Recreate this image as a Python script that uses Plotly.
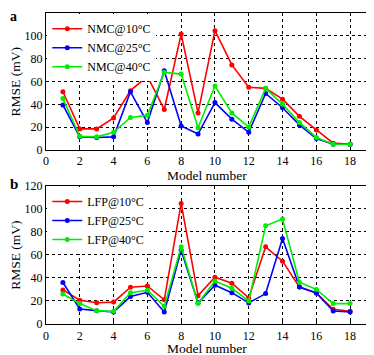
import plotly.graph_objects as go

models = list(range(1, 19))

nmc10 = [51, 18.5, 18.5, 28, 52, 64.5, 35.5, 101.5, 32.5, 104.5, 74.5, 55, 54, 44.5, 29.5, 17.5, 6, 5]
nmc25 = [39.5, 11.5, 11, 11.5, 51, 24, 69.5, 21, 14, 41.5, 27, 15.5, 49.5, 37, 22, 10, 5, 5]
nmc40 = [45, 12, 11.5, 15.5, 28.5, 30.5, 68, 66.5, 19.5, 56, 32.5, 20, 54, 40, 24, 11, 5, 5]

lfp10 = [29.6, 20.6, 18.5, 19, 31.9, 33, 21, 104.6, 24.6, 40.6, 35.4, 22.6, 67, 54.5, 32, 27, 12.8, 11]
lfp25 = [36, 13, 11.6, 10.4, 23.8, 27.5, 10.4, 64, 18.3, 33.6, 27.2, 18.3, 26.4, 74.2, 32, 27, 11.3, 10.4]
lfp40 = [26, 17.7, 11.6, 11, 27.2, 29.3, 15.4, 67, 18, 37.4, 31, 20, 85.2, 91, 36.2, 30, 17.7, 17.7]

names_a = ["NMC@10°C", "NMC@25°C", "NMC@40°C"]
names_b = ["LFP@10°C", "LFP@25°C", "LFP@40°C"]
colors = ["#ff0000", "#0000ff", "#00ee00"]

xticks = list(range(0, 19, 2))
yticks = list(range(0, 121, 20))

FONT = "Liberation Serif, Times New Roman, serif"

fig = go.Figure()
for ys, nm, c in zip([nmc10, nmc25, nmc40], names_a, colors):
    fig.add_trace(go.Scatter(x=models, y=ys, name=nm, mode="lines+markers",
                             line=dict(color=c, width=1.6), marker=dict(color=c, size=5),
                             xaxis="x", yaxis="y", legend="legend"))
for ys, nm, c in zip([lfp10, lfp25, lfp40], names_b, colors):
    fig.add_trace(go.Scatter(x=models, y=ys, name=nm, mode="lines+markers",
                             line=dict(color=c, width=1.6), marker=dict(color=c, size=5),
                             xaxis="x2", yaxis="y2", legend="legend2"))

axis_common = dict(showline=True, linecolor="black", linewidth=1.2, mirror=True,
                   showgrid=True, gridcolor="black", griddash="dot", gridwidth=1,
                   zeroline=False, ticks="inside", ticklen=3, tickcolor="black",
                   automargin=False,
                   tickfont=dict(family=FONT, size=12, color="black"))

A_BOT, A_TOP = 0.5595, 1.0
B_BOT, B_TOP = 0.0, 0.4447

# page body has an 8px margin, so the figure is shifted; compensate
fig.update_layout(
    width=366, height=347,
    margin=dict(l=38, r=7, t=5, b=31),
    paper_bgcolor="white", plot_bgcolor="white",
    font=dict(family=FONT, color="black"),
    xaxis=dict(domain=[0, 1], range=[0, 19], tickvals=xticks, anchor="y", **axis_common),
    yaxis=dict(domain=[A_BOT, A_TOP], range=[0, 120], tickvals=yticks, anchor="x", **axis_common),
    xaxis2=dict(domain=[0, 1], range=[0, 19], tickvals=xticks, anchor="y2", **axis_common),
    yaxis2=dict(domain=[B_BOT, B_TOP], range=[0, 120], tickvals=yticks, anchor="x2", **axis_common),
    legend=dict(x=0.004, y=A_TOP - 0.004, xref="paper", yref="paper", xanchor="left", yanchor="top",
                bgcolor="white", borderwidth=0, font=dict(family=FONT, size=12),
                tracegroupgap=0, itemwidth=30),
    legend2=dict(x=0.004, y=B_TOP - 0.004, xanchor="left", yanchor="top",
                 bgcolor="white", borderwidth=0, font=dict(family=FONT, size=12),
                 tracegroupgap=0, itemwidth=30),
    showlegend=True,
    annotations=[
        dict(text="<b>a</b>", x=-0.101, y=0.9885, xref="paper", yref="paper", showarrow=False,
             xanchor="center", yanchor="middle", font=dict(family=FONT, size=14)),
        dict(text="<b>b</b>", x=-0.101, y=B_TOP + 0.007, xref="paper", yref="paper", showarrow=False,
             xanchor="center", yanchor="middle", font=dict(family=FONT, size=15)),
        dict(text="RMSE (mV)", x=-0.0935, y=(A_BOT + A_TOP) / 2, xref="paper", yref="paper",
             showarrow=False, textangle=-90, xanchor="center", yanchor="middle",
             font=dict(family=FONT, size=13.5)),
        dict(text="RMSE (mV)", x=-0.0935, y=(B_BOT + B_TOP) / 2, xref="paper", yref="paper",
             showarrow=False, textangle=-90, xanchor="center", yanchor="middle",
             font=dict(family=FONT, size=13.5)),
        dict(text="Model number", x=0.5, y=0.479, xref="paper", yref="paper", showarrow=False,
             xanchor="center", yanchor="middle", font=dict(family=FONT, size=13.5)),
        dict(text="Model number", x=0.5, y=-0.079, xref="paper", yref="paper", showarrow=False,
             xanchor="center", yanchor="middle", font=dict(family=FONT, size=13.5)),
    ],
)

fig.write_html("out.html")
